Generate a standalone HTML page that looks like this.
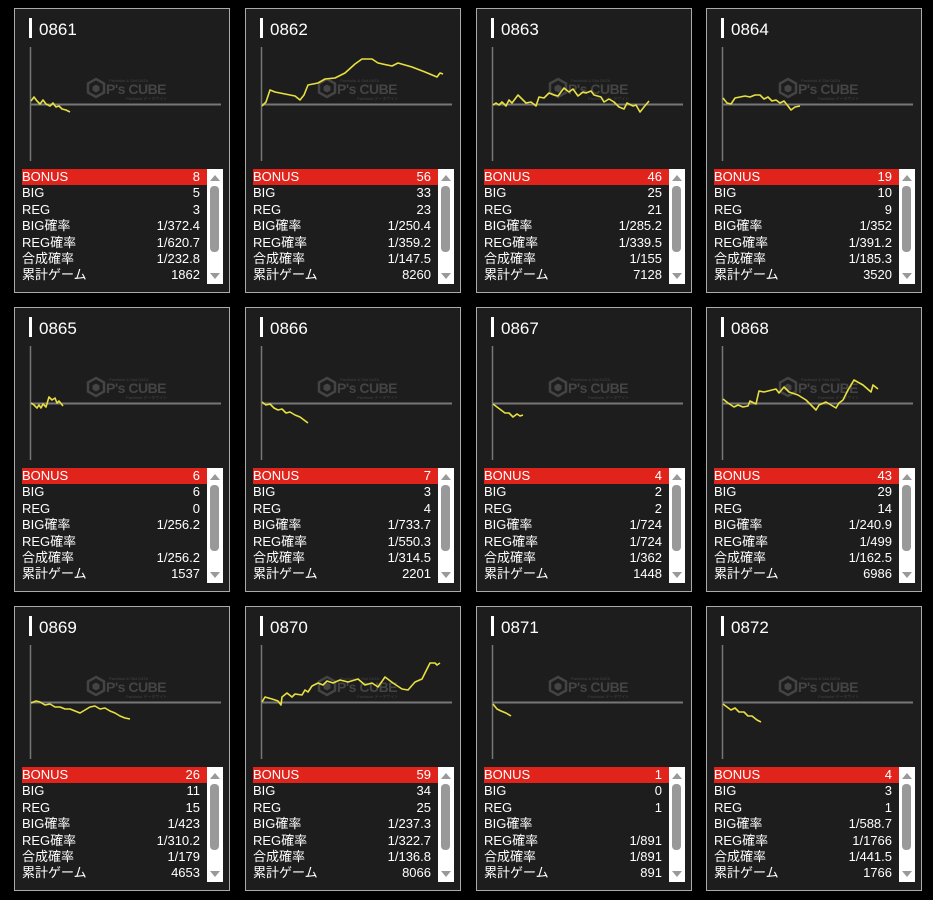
<!DOCTYPE html>
<html><head><meta charset="utf-8">
<style>
body{margin:0;width:933px;height:900px;background:#000;position:relative;overflow:hidden;font-family:"Liberation Sans","Noto Sans CJK JP",sans-serif;}
.c{position:absolute;width:216px;height:285px;border:1px solid #aaa;background:#1d1d1d;box-sizing:border-box;}
.t{position:absolute;left:24px;top:11px;color:#fff;font-size:17px;line-height:20px;}
.bar{position:absolute;left:14px;top:9px;width:3px;height:20px;background:#fff;}
.tb{position:absolute;left:7px;top:160px;width:186px;}
.r{height:16.4px;line-height:16.4px;font-size:13px;color:#fff;display:flex;justify-content:space-between;padding:0 8px 0 0;}
.r.b{background:#e0241b;}
.sb{position:absolute;left:192px;top:160px;width:16px;height:115px;background:#fff;}
.th{position:absolute;left:3px;top:17px;width:9px;height:66px;background:#999;border-radius:4px;}
.up{position:absolute;left:3px;top:6px;width:0;height:0;border-left:5px solid transparent;border-right:5px solid transparent;border-bottom:6px solid #999;}
.dn{position:absolute;left:3px;top:104px;width:0;height:0;border-left:5px solid transparent;border-right:5px solid transparent;border-top:6px solid #999;}
svg{position:absolute;left:0;top:0;}
</style></head><body>

<div class="c" style="left:14px;top:8px"><div class="bar"></div><div class="t">0861</div>
<div class="tb"><div class="r b"><span>BONUS</span><span>8</span></div><div class="r"><span>BIG</span><span>5</span></div><div class="r"><span>REG</span><span>3</span></div><div class="r"><span>BIG確率</span><span>1/372.4</span></div><div class="r"><span>REG確率</span><span>1/620.7</span></div><div class="r"><span>合成確率</span><span>1/232.8</span></div><div class="r"><span>累計ゲーム</span><span>1862</span></div></div>
<div class="sb"><div class="up"></div><div class="th"></div><div class="dn"></div></div></div>

<div class="c" style="left:245px;top:8px"><div class="bar"></div><div class="t">0862</div>
<div class="tb"><div class="r b"><span>BONUS</span><span>56</span></div><div class="r"><span>BIG</span><span>33</span></div><div class="r"><span>REG</span><span>23</span></div><div class="r"><span>BIG確率</span><span>1/250.4</span></div><div class="r"><span>REG確率</span><span>1/359.2</span></div><div class="r"><span>合成確率</span><span>1/147.5</span></div><div class="r"><span>累計ゲーム</span><span>8260</span></div></div>
<div class="sb"><div class="up"></div><div class="th"></div><div class="dn"></div></div></div>

<div class="c" style="left:476px;top:8px"><div class="bar"></div><div class="t">0863</div>
<div class="tb"><div class="r b"><span>BONUS</span><span>46</span></div><div class="r"><span>BIG</span><span>25</span></div><div class="r"><span>REG</span><span>21</span></div><div class="r"><span>BIG確率</span><span>1/285.2</span></div><div class="r"><span>REG確率</span><span>1/339.5</span></div><div class="r"><span>合成確率</span><span>1/155</span></div><div class="r"><span>累計ゲーム</span><span>7128</span></div></div>
<div class="sb"><div class="up"></div><div class="th"></div><div class="dn"></div></div></div>

<div class="c" style="left:706px;top:8px"><div class="bar"></div><div class="t">0864</div>
<div class="tb"><div class="r b"><span>BONUS</span><span>19</span></div><div class="r"><span>BIG</span><span>10</span></div><div class="r"><span>REG</span><span>9</span></div><div class="r"><span>BIG確率</span><span>1/352</span></div><div class="r"><span>REG確率</span><span>1/391.2</span></div><div class="r"><span>合成確率</span><span>1/185.3</span></div><div class="r"><span>累計ゲーム</span><span>3520</span></div></div>
<div class="sb"><div class="up"></div><div class="th"></div><div class="dn"></div></div></div>

<div class="c" style="left:14px;top:307px"><div class="bar"></div><div class="t">0865</div>
<div class="tb"><div class="r b"><span>BONUS</span><span>6</span></div><div class="r"><span>BIG</span><span>6</span></div><div class="r"><span>REG</span><span>0</span></div><div class="r"><span>BIG確率</span><span>1/256.2</span></div><div class="r"><span>REG確率</span><span></span></div><div class="r"><span>合成確率</span><span>1/256.2</span></div><div class="r"><span>累計ゲーム</span><span>1537</span></div></div>
<div class="sb"><div class="up"></div><div class="th"></div><div class="dn"></div></div></div>

<div class="c" style="left:245px;top:307px"><div class="bar"></div><div class="t">0866</div>
<div class="tb"><div class="r b"><span>BONUS</span><span>7</span></div><div class="r"><span>BIG</span><span>3</span></div><div class="r"><span>REG</span><span>4</span></div><div class="r"><span>BIG確率</span><span>1/733.7</span></div><div class="r"><span>REG確率</span><span>1/550.3</span></div><div class="r"><span>合成確率</span><span>1/314.5</span></div><div class="r"><span>累計ゲーム</span><span>2201</span></div></div>
<div class="sb"><div class="up"></div><div class="th"></div><div class="dn"></div></div></div>

<div class="c" style="left:476px;top:307px"><div class="bar"></div><div class="t">0867</div>
<div class="tb"><div class="r b"><span>BONUS</span><span>4</span></div><div class="r"><span>BIG</span><span>2</span></div><div class="r"><span>REG</span><span>2</span></div><div class="r"><span>BIG確率</span><span>1/724</span></div><div class="r"><span>REG確率</span><span>1/724</span></div><div class="r"><span>合成確率</span><span>1/362</span></div><div class="r"><span>累計ゲーム</span><span>1448</span></div></div>
<div class="sb"><div class="up"></div><div class="th"></div><div class="dn"></div></div></div>

<div class="c" style="left:706px;top:307px"><div class="bar"></div><div class="t">0868</div>
<div class="tb"><div class="r b"><span>BONUS</span><span>43</span></div><div class="r"><span>BIG</span><span>29</span></div><div class="r"><span>REG</span><span>14</span></div><div class="r"><span>BIG確率</span><span>1/240.9</span></div><div class="r"><span>REG確率</span><span>1/499</span></div><div class="r"><span>合成確率</span><span>1/162.5</span></div><div class="r"><span>累計ゲーム</span><span>6986</span></div></div>
<div class="sb"><div class="up"></div><div class="th"></div><div class="dn"></div></div></div>

<div class="c" style="left:14px;top:606px"><div class="bar"></div><div class="t">0869</div>
<div class="tb"><div class="r b"><span>BONUS</span><span>26</span></div><div class="r"><span>BIG</span><span>11</span></div><div class="r"><span>REG</span><span>15</span></div><div class="r"><span>BIG確率</span><span>1/423</span></div><div class="r"><span>REG確率</span><span>1/310.2</span></div><div class="r"><span>合成確率</span><span>1/179</span></div><div class="r"><span>累計ゲーム</span><span>4653</span></div></div>
<div class="sb"><div class="up"></div><div class="th"></div><div class="dn"></div></div></div>

<div class="c" style="left:245px;top:606px"><div class="bar"></div><div class="t">0870</div>
<div class="tb"><div class="r b"><span>BONUS</span><span>59</span></div><div class="r"><span>BIG</span><span>34</span></div><div class="r"><span>REG</span><span>25</span></div><div class="r"><span>BIG確率</span><span>1/237.3</span></div><div class="r"><span>REG確率</span><span>1/322.7</span></div><div class="r"><span>合成確率</span><span>1/136.8</span></div><div class="r"><span>累計ゲーム</span><span>8066</span></div></div>
<div class="sb"><div class="up"></div><div class="th"></div><div class="dn"></div></div></div>

<div class="c" style="left:476px;top:606px"><div class="bar"></div><div class="t">0871</div>
<div class="tb"><div class="r b"><span>BONUS</span><span>1</span></div><div class="r"><span>BIG</span><span>0</span></div><div class="r"><span>REG</span><span>1</span></div><div class="r"><span>BIG確率</span><span></span></div><div class="r"><span>REG確率</span><span>1/891</span></div><div class="r"><span>合成確率</span><span>1/891</span></div><div class="r"><span>累計ゲーム</span><span>891</span></div></div>
<div class="sb"><div class="up"></div><div class="th"></div><div class="dn"></div></div></div>

<div class="c" style="left:706px;top:606px"><div class="bar"></div><div class="t">0872</div>
<div class="tb"><div class="r b"><span>BONUS</span><span>4</span></div><div class="r"><span>BIG</span><span>3</span></div><div class="r"><span>REG</span><span>1</span></div><div class="r"><span>BIG確率</span><span>1/588.7</span></div><div class="r"><span>REG確率</span><span>1/1766</span></div><div class="r"><span>合成確率</span><span>1/441.5</span></div><div class="r"><span>累計ゲーム</span><span>1766</span></div></div>
<div class="sb"><div class="up"></div><div class="th"></div><div class="dn"></div></div></div>

<svg width="933" height="900" viewBox="0 0 933 900">
<defs>
<g id="lg">
<path d="M0,-9 L8,-4.5 L8,4.5 L0,9 L-8,4.5 L-8,-4.5Z" fill="none" stroke="#444" stroke-width="2.5"/>
<path d="M0,-3.5 L3.5,-1.5 L3.5,2.5 L0,4.5 L-3.5,2.5 L-3.5,-1.5Z" fill="#444"/>
<text x="10" y="6" font-family="Liberation Sans" font-weight="bold" font-size="14" letter-spacing="-0.5" fill="#444">P's CUBE</text>
<text x="13" y="-6" font-family="Liberation Sans" font-size="4" fill="#444">Pachislot &amp; Slot DATA</text>
<text x="30" y="12" font-family="Liberation Sans" font-size="4" fill="#444">Pachislot データサイト</text>
</g>
<g id="ax"><line x1="16.5" y1="39" x2="16.5" y2="153" stroke="#777" stroke-width="1.5"/><line x1="16" y1="96.5" x2="207" y2="96.5" stroke="#777" stroke-width="2"/><use href="#lg" x="82" y="80"/></g>
</defs>
<use href="#ax" x="14" y="8"/><use href="#ax" x="245" y="8"/><use href="#ax" x="476" y="8"/><use href="#ax" x="706" y="8"/>
<use href="#ax" x="14" y="307"/><use href="#ax" x="245" y="307"/><use href="#ax" x="476" y="307"/><use href="#ax" x="706" y="307"/>
<use href="#ax" x="14" y="606"/><use href="#ax" x="245" y="606"/><use href="#ax" x="476" y="606"/><use href="#ax" x="706" y="606"/>
<g fill="none" stroke="#e8e040" stroke-width="1.6" stroke-linejoin="round">
<polyline points="31,101 34,97 37,101 40,104 43,100 46,104 50,106 53,103 56,107 59,106 62,109 66,110 70,112"/>
<polyline points="262,106 266,102 270,90 275,92 285,94 295,96 300,100 304,95 308,85 318,83 325,79 335,78 345,73 355,64 362,59 372,59 378,63 392,66 398,63 412,67 425,72 437,77 440,73 443,74"/>
<polyline points="493,105 496,103 499,105 502,102 506,106 509,100 512,103 518,95 526,103 531,102 536,106 539,97 544,98 549,93 554,95 558,96 564,88 569,92 573,89 578,96 583,92 586,93 591,91 594,95 601,97 604,102 609,99 614,102 619,107 624,109 627,103 633,106 636,105 640,112 644,107 649,101"/>
<polyline points="723,98 727,103 731,104 735,98 740,97 745,96 750,97 755,95 760,95 764,99 768,97 772,101 776,100 780,103 784,101 788,106 791,110 795,107 800,106"/>
<polyline points="31,403 34,405 37,408 39,405 41,408 43,404 46,407 49,397 52,400 55,398 57,403 59,401 63,406"/>
<polyline points="262,402 266,405 270,404 274,408 278,410 282,409 286,413 290,412 295,415 300,417 304,420 308,423"/>
<polyline points="493,404 497,407 501,410 505,413 509,413 513,417 517,414 520,416 523,415"/>
<polyline points="723,399 728,403 734,407 738,405 743,407 748,406 750,401 756,404 759,391 764,392 776,389 779,393 784,387 789,392 798,395 806,400 816,410 819,405 826,402 836,408 839,403 843,400 848,390 854,380 863,385 871,392 873,385 878,389"/>
<polyline points="31,703 36,701 40,702 45,705 50,704 55,707 60,707 65,709 70,709 75,711 80,713 85,710 90,707 95,706 100,709 105,708 110,711 115,713 120,716 125,718 130,719"/>
<polyline points="262,702 265,697 272,699 278,701 281,705 282,697 287,693 292,697 295,694 302,695 305,690 308,692 312,686 318,683 323,685 327,681 333,683 340,680 348,682 358,679 365,685 372,683 378,687 385,677 393,683 402,689 408,690 415,682 422,679 430,663 435,663 437,665 440,663"/>
<polyline points="493,704 497,709 501,711 506,713 511,716"/>
<polyline points="723,704 727,707 731,710 735,708 739,712 744,712 748,716 752,716 757,720 761,722"/>
</g>
</svg>
</body></html>
